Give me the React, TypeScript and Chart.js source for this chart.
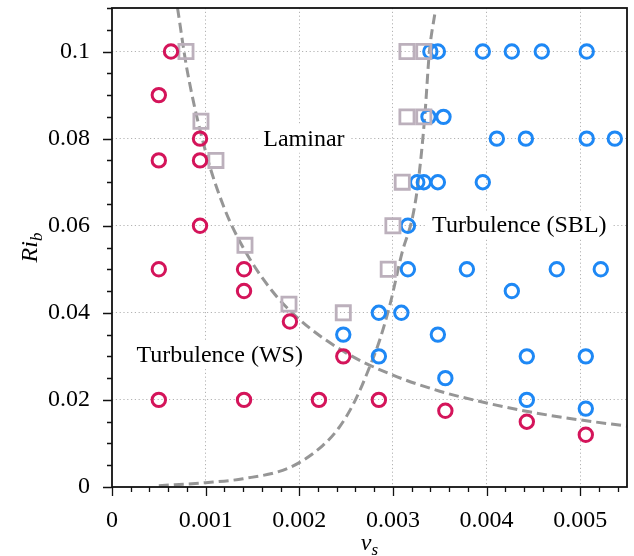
import { useEffect, useRef } from "react";
import { Chart, registerables } from "chart.js";

Chart.register(...registerables);

// ---- Data ----
const redX = [0.00063, 0.0005, 0.0005, 0.00094, 0.00094, 0.00094, 0.0005, 0.00141, 0.00141, 0.0019, 0.00247, 0.0005, 0.00141, 0.00221, 0.00285, 0.00356, 0.00443, 0.00506];
const redY = [0.1, 0.09, 0.075, 0.08, 0.075, 0.06, 0.05, 0.05, 0.045, 0.038, 0.03, 0.02, 0.02, 0.02, 0.02, 0.0175, 0.015, 0.012];

const grayX = [0.00079, 0.00095, 0.00111, 0.00142, 0.00189, 0.00247, 0.00315, 0.00333, 0.00315, 0.00333, 0.0031, 0.003, 0.00295];
const grayY = [0.1, 0.084, 0.075, 0.0555, 0.042, 0.04, 0.1, 0.1, 0.085, 0.085, 0.07, 0.06, 0.05];

const blueX = [0.0034, 0.00348, 0.00396, 0.00427, 0.00459, 0.00507, 0.00338, 0.00354, 0.00411, 0.00442, 0.00507, 0.00537, 0.00326, 0.00333, 0.00348, 0.00396, 0.00316, 0.00316, 0.00379, 0.00475, 0.00522, 0.00427, 0.00285, 0.00309, 0.00247, 0.00348, 0.00285, 0.00443, 0.00506, 0.00356, 0.00443, 0.00506];
const blueY = [0.1, 0.1, 0.1, 0.1, 0.1, 0.1, 0.085, 0.085, 0.08, 0.08, 0.08, 0.08, 0.07, 0.07, 0.07, 0.07, 0.06, 0.05, 0.05, 0.05, 0.05, 0.045, 0.04, 0.04, 0.035, 0.035, 0.03, 0.03, 0.03, 0.025, 0.02, 0.018];

// dashed boundary curves
const wsCurveX = [0.0007, 0.0008, 0.001, 0.0012, 0.0014, 0.0017, 0.002, 0.0025, 0.003, 0.0035, 0.004, 0.0045, 0.005, 0.0055];
const wsCurveY = [0.11, 0.096, 0.077, 0.064, 0.055, 0.0453, 0.0385, 0.0308, 0.0257, 0.022, 0.0193, 0.0171, 0.0154, 0.014];

const sblCurveX = [0.0005, 0.001, 0.0014, 0.0019, 0.00225, 0.00243, 0.0026, 0.00275, 0.00286, 0.00297, 0.0031, 0.00321, 0.00327, 0.00334, 0.00339, 0.00345];
const sblCurveY = [0.0003, 0.001, 0.0019, 0.0045, 0.0095, 0.0138, 0.02, 0.0275, 0.0338, 0.042, 0.054, 0.062, 0.07, 0.085, 0.1, 0.109];

// ticks
const xMajorTicks = [0, 0.001, 0.002, 0.003, 0.004, 0.005];
const xMinorStep = 0.0002;
const yMajorTicks = [0, 0.02, 0.04, 0.06, 0.08, 0.1];
const yMinorStep = 0.005;

const regionLabels = [
  { text: "Laminar", x: 0.00205, y: 0.08 },
  { text: "Turbulence (SBL)", x: 0.00435, y: 0.0602 },
  { text: "Turbulence (WS)", x: 0.00115, y: 0.0303 },
];

const X_MAX = 0.0055;
const Y_MAX = 0.11;

const toXY = (xs: number[], ys: number[]) => xs.map((x, i) => ({ x, y: ys[i] }));
const isIn = (v: number, list: number[], eps: number) => list.some((t) => Math.abs(t - v) < eps);

const RED = "#d4145a";
const BLUE = "#1e88f5";
const GRAY_SQ = "#bcb0bc";
const CURVE = "#969696";
const FONT = "'Liberation Serif', 'Times New Roman', serif";

const decorPlugin = {
  id: "decor",
  beforeDatasetsDraw(chart: any) {
    const { ctx, scales } = chart;
    const xs = scales.x;
    const ys = scales.y;
    ctx.save();
    ctx.font = `24px ${FONT}`;
    ctx.textAlign = "center";
    ctx.textBaseline = "middle";
    for (const l of regionLabels) {
      const px = xs.getPixelForValue(l.x);
      const py = ys.getPixelForValue(l.y);
      const w = ctx.measureText(l.text).width;
      ctx.fillStyle = "#ffffff";
      ctx.fillRect(px - w / 2 - 5, py - 14, w + 10, 28);
      ctx.fillStyle = "#000000";
      ctx.fillText(l.text, px, py + 1);
    }
    ctx.restore();
  },
  afterDraw(chart: any) {
    const { ctx, chartArea, scales } = chart;
    const xs = scales.x;
    const ys = scales.y;
    const { left, right, top, bottom } = chartArea;
    ctx.save();
    // frame
    ctx.strokeStyle = "#111111";
    ctx.lineWidth = 1.8;
    ctx.strokeRect(left, top, right - left, bottom - top);
    // ticks
    ctx.lineWidth = 1.3;
    ctx.beginPath();
    const nx = Math.round(X_MAX / xMinorStep);
    for (let i = 0; i <= nx; i++) {
      const v = i * xMinorStep;
      if (v > X_MAX + 1e-9) break;
      const major = isIn(v, xMajorTicks, 1e-7);
      const px = Math.round(xs.getPixelForValue(v)) + 0.5;
      ctx.moveTo(px, bottom);
      ctx.lineTo(px, bottom + (major ? 9 : 5));
    }
    const ny = Math.round(Y_MAX / yMinorStep);
    for (let i = 0; i <= ny; i++) {
      const v = i * yMinorStep;
      if (v > Y_MAX + 1e-9) break;
      const major = isIn(v, yMajorTicks, 1e-6);
      const py = Math.round(ys.getPixelForValue(v)) + 0.5;
      ctx.moveTo(left, py);
      ctx.lineTo(left - (major ? 9 : 5), py);
    }
    ctx.stroke();

    // axis titles
    ctx.fillStyle = "#000000";
    ctx.textBaseline = "alphabetic";
    ctx.textAlign = "left";
    // x title: v_s
    ctx.font = `italic 24px ${FONT}`;
    const vw = ctx.measureText("v").width;
    ctx.font = `italic 17px ${FONT}`;
    const sw = ctx.measureText("s").width;
    const cx = (left + right) / 2;
    const sx = cx - (vw + sw) / 2;
    ctx.font = `italic 24px ${FONT}`;
    ctx.fillText("v", sx, 550);
    ctx.font = `italic 17px ${FONT}`;
    ctx.fillText("s", sx + vw, 555);

    // y title: Ri_b rotated
    ctx.translate(37, (top + bottom) / 2);
    ctx.rotate(-Math.PI / 2);
    ctx.font = `italic 24px ${FONT}`;
    const rw = ctx.measureText("Ri").width;
    ctx.font = `italic 17px ${FONT}`;
    const bw = ctx.measureText("b").width;
    const sy = -(rw + bw) / 2;
    ctx.font = `italic 24px ${FONT}`;
    ctx.fillText("Ri", sy, 0);
    ctx.font = `italic 17px ${FONT}`;
    ctx.fillText("b", sy + rw, 5);
    ctx.restore();
  },
};

const fmt = (v: number) => String(Number(v.toFixed(4)));

export default function App() {
  const ref = useRef<HTMLCanvasElement | null>(null);

  useEffect(() => {
    if (!ref.current) return;
    const markerBase = {
      type: "scatter" as const,
      showLine: false,
      pointBackgroundColor: "rgba(0,0,0,0)",
      pointHoverRadius: 0,
    };
    const curveBase = {
      type: "scatter" as const,
      showLine: true,
      borderColor: CURVE,
      borderWidth: 3,
      borderDash: [10, 5],
      pointRadius: 0,
      fill: false,
      cubicInterpolationMode: "monotone" as const,
    };
    const chart = new Chart(ref.current, {
      type: "scatter",
      data: {
        datasets: [
          { ...markerBase, data: toXY(redX, redY), pointStyle: "circle", pointRadius: 6.7, pointBorderWidth: 3, pointBorderColor: RED },
          { ...markerBase, data: toXY(grayX, grayY), pointStyle: "rect", pointRadius: 10, pointBorderWidth: 2.8, pointBorderColor: GRAY_SQ },
          { ...markerBase, data: toXY(blueX, blueY), pointStyle: "circle", pointRadius: 6.7, pointBorderWidth: 3, pointBorderColor: BLUE },
          { ...curveBase, data: toXY(wsCurveX, wsCurveY) },
          { ...curveBase, data: toXY(sblCurveX, sblCurveY) },
        ] as any,
      },
      options: {
        animation: false,
        responsive: false,
        events: [],
        layout: { autoPadding: false, padding: { left: 0, right: 7, top: 8, bottom: 0 } },
        plugins: { legend: { display: false }, tooltip: { enabled: false } },
        scales: {
          x: {
            type: "linear",
            min: 0,
            max: X_MAX,
            afterFit: (s: any) => {
              s.height = 69;
              s.paddingLeft = 0;
              s.paddingRight = 0;
              s.paddingTop = 0;
              s.paddingBottom = 0;
            },
            border: { display: false, dash: [1.2, 2.6] },
            grid: {
              drawTicks: false,
              lineWidth: 1,
              color: (c: any) =>
                c.tick && c.tick.value > 1e-9 && isIn(c.tick.value, xMajorTicks, 1e-7) ? "#b3b3b3" : "rgba(0,0,0,0)",
            },
            ticks: {
              stepSize: 0.001,
              includeBounds: false,
              autoSkip: false,
              maxRotation: 0,
              padding: 19,
              color: "#000",
              font: { family: FONT, size: 24 },
              callback: (v: any) => (isIn(Number(v), xMajorTicks, 1e-7) ? fmt(Number(v)) : ""),
            },
          },
          y: {
            type: "linear",
            min: 0,
            max: Y_MAX,
            afterFit: (s: any) => {
              s.width = 112;
              s.paddingLeft = 0;
              s.paddingRight = 0;
              s.paddingTop = 0;
              s.paddingBottom = 0;
            },
            border: { display: false, dash: [1.2, 2.6] },
            grid: {
              drawTicks: false,
              lineWidth: 1,
              color: (c: any) =>
                c.tick && c.tick.value > 1e-9 && isIn(c.tick.value, yMajorTicks, 1e-6) ? "#b3b3b3" : "rgba(0,0,0,0)",
            },
            ticks: {
              stepSize: 0.02,
              includeBounds: false,
              autoSkip: false,
              padding: 22,
              color: "#000",
              font: { family: FONT, size: 24 },
              callback: (v: any) => (isIn(Number(v), yMajorTicks, 1e-6) ? fmt(Number(v)) : ""),
            },
          },
        },
      },
      plugins: [decorPlugin],
    });
    return () => chart.destroy();
  }, []);

  return (
    <div style={{ position: "absolute", left: 0, top: 0, width: 634, height: 556, background: "#fff" }}>
      <canvas ref={ref} width={634} height={556} style={{ width: 634, height: 556, display: "block" }} />
    </div>
  );
}
